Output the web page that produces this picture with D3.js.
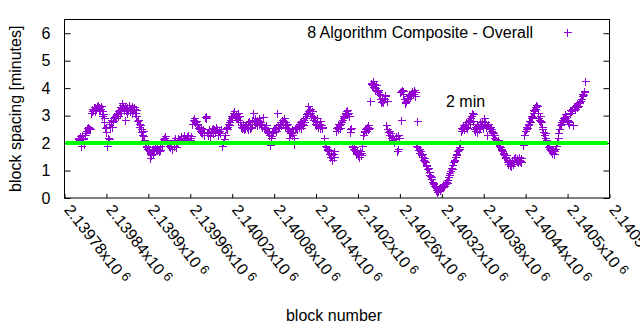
<!DOCTYPE html>
<html>
<head>
<meta charset="utf-8">
<script src="https://cdn.jsdelivr.net/npm/d3@7"></script>
<style>
  html, body { margin: 0; padding: 0; background: #fff; }
  svg { display: block; }
  text { font-family: "Liberation Sans", Arial, sans-serif; fill: #000; }
</style>
</head>
<body>
<svg id="chart" width="640" height="330"></svg>
<script>
// ---- data ----
const blockBase = 2139780;          // first x tick (block number)
const xTicks = [2139780, 2139840, 2139900, 2139960, 2140020, 2140080, 2140140,
                2140200, 2140260, 2140320, 2140380, 2140440, 2140500, 2140560];
const xTickLabels = ["2.13978", "2.13984", "2.1399", "2.13996", "2.14002", "2.14008", "2.14014",
                     "2.1402", "2.14026", "2.14032", "2.14038", "2.14044", "2.1405", "2.14056"];
const yTicks = [0, 1, 2, 3, 4, 5, 6];
const seriesName = "8 Algorithm Composite - Overall";
const targetMinutes = 2;
const targetLabel = "2 min";
const targetLabelAt = [2140326, 3.3];
// [block - blockBase, block spacing in minutes]
const samples = [
[19,2.15],[20,2.2],[21,2.1],[22,2.25],[23,1.9],[24,2.2],[25,2.3],[26,2.15],[27,2.2],[28,1.95],[29,2.3],[30,2.35],
[31,2.45],[32,2.55],[33,2.5],[34,2.6],[35,2.55],[36,2.5],[38,3.1],[39,3.15],[40,3.25],[41,3.2],[42,3.3],[43,3.15],
[44,3.3],[45,3.25],[46,3.35],[47,3.3],[48,3.4],[49,3.2],[50,3.3],[51,3.25],[52,3.35],[53,3.15],[54,3.0],[55,3.05],
[56,2.9],[57,2.75],[58,2.55],[59,2.4],[60,2.6],[61,1.9],[62,2.2],[63,2.15],[64,2.7],[65,2.6],[66,2.75],[67,2.85],
[68,2.6],[69,2.9],[70,2.8],[71,2.95],[72,3.0],[73,2.9],[74,3.05],[75,3.1],[76,3.0],[77,3.15],[78,3.2],[79,3.1],
[80,3.3],[81,3.15],[82,3.4],[83,3.45],[84,3.35],[85,3.2],[86,3.3],[87,2.85],[88,3.2],[89,3.1],[90,3.3],[91,3.2],
[92,3.4],[93,3.3],[94,3.15],[95,3.25],[96,3.35],[97,3.1],[98,3.2],[99,3.3],[100,3.25],[101,3.1],[102,3.2],[103,3.0],
[104,2.8],[105,2.85],[106,2.7],[107,2.6],[108,2.65],[109,2.5],[110,2.4],[111,2.3],[112,2.45],[113,2.25],[114,2.1],[115,1.95],
[116,1.85],[117,1.9],[118,1.8],[119,1.75],[120,1.85],[121,1.7],[122,1.6],[123,1.45],[124,1.55],[125,1.7],[126,1.75],[127,1.6],
[128,1.8],[129,1.85],[130,1.9],[131,1.8],[132,1.75],[133,1.85],[134,1.8],[135,1.7],[136,1.75],[137,1.9],[139,1.95],[141,2.15],
[142,2.2],[143,2.1],[144,2.25],[145,2.1],[147,2.0],[148,1.95],[150,1.9],[151,1.85],[153,1.95],[154,1.8],[156,1.9],[157,2.1],
[158,2.2],[160,1.85],[161,2.05],[163,2.2],[164,2.1],[166,2.15],[167,2.25],[169,2.1],[170,2.2],[171,2.3],[173,2.15],[174,2.2],
[176,2.25],[177,2.3],[179,2.2],[180,2.1],[181,2.25],[183,2.7],[184,2.85],[185,2.8],[186,2.9],[187,2.75],[188,2.8],[189,2.65],
[190,2.7],[191,2.55],[192,2.6],[193,2.5],[194,2.45],[195,2.55],[196,2.4],[197,2.35],[198,2.5],[199,2.4],[200,2.3],[201,2.95],
[202,3.0],[203,2.9],[204,2.4],[205,2.3],[206,2.35],[207,2.5],[208,2.25],[209,2.4],[210,2.45],[211,2.5],[212,2.35],[213,2.55],
[214,2.5],[215,2.4],[216,2.45],[217,2.6],[218,2.5],[219,2.4],[220,2.3],[221,2.45],[222,2.35],[224,2.5],[226,1.9],[227,2.05],
[228,2.15],[229,2.3],[231,2.55],[232,2.6],[233,2.5],[234,2.7],[235,2.65],[236,2.75],[237,2.85],[238,2.9],[239,3.0],[240,2.95],
[241,3.1],[242,3.05],[243,3.15],[244,3.0],[245,2.9],[246,3.05],[247,2.95],[248,3.1],[249,2.85],[250,3.0],[251,2.75],[252,2.6],
[253,2.65],[254,2.55],[255,2.7],[256,2.6],[257,2.5],[258,2.55],[259,2.65],[260,2.7],[261,2.6],[262,2.5],[263,2.75],[264,2.8],
[265,2.55],[266,2.7],[267,2.6],[268,2.85],[269,2.75],[270,3.1],[271,2.8],[272,2.7],[273,2.9],[274,2.75],[275,2.85],[276,2.65],
[277,2.8],[278,2.7],[279,2.9],[280,2.75],[281,2.65],[282,2.6],[283,2.7],[284,2.95],[285,2.55],[286,2.6],[287,2.5],[288,2.65],
[289,2.55],[290,2.45],[291,2.4],[292,2.3],[293,2.35],[294,1.93],[295,2.2],[296,2.25],[297,2.35],[298,2.45],[299,2.4],[300,2.55],
[301,2.5],[302,2.6],[303,2.45],[304,3.1],[305,2.55],[306,2.65],[307,2.6],[308,2.7],[309,2.75],[310,2.65],[311,2.85],[312,2.8],
[313,2.7],[314,2.9],[315,2.75],[316,2.6],[317,2.65],[318,2.55],[319,2.7],[320,2.5],[321,2.2],[322,2.45],[323,2.35],[324,2.4],
[325,2.3],[326,2.5],[327,2.4],[328,2.2],[329,1.95],[330,2.5],[331,2.55],[332,2.6],[333,2.5],[334,2.65],[335,2.7],[336,2.6],
[337,2.75],[338,2.55],[339,2.8],[340,2.7],[341,2.65],[342,2.85],[343,2.75],[344,2.9],[345,3.0],[346,3.05],[347,3.1],[348,3.35],
[349,3.15],[350,3.2],[351,3.1],[352,3.25],[353,3.0],[354,3.15],[355,2.95],[356,2.85],[357,2.9],[358,2.7],[359,2.8],[360,2.65],
[361,2.75],[362,2.9],[363,2.6],[364,2.7],[365,2.55],[366,2.8],[367,2.65],[368,2.6],[369,2.55],[371,2.2],[373,1.9],[374,1.85],
[375,1.75],[376,1.8],[377,1.7],[378,1.6],[379,1.75],[380,1.5],[381,1.65],[382,1.55],[383,1.4],[384,1.6],[385,1.5],[386,1.7],
[388,2.55],[389,2.45],[390,2.6],[391,2.5],[392,2.7],[393,2.65],[394,2.55],[395,2.7],[396,2.75],[397,2.85],[398,2.9],[399,3.0],
[400,2.95],[401,3.05],[402,3.1],[403,3.15],[404,3.05],[405,3.2],[406,3.1],[407,3.0],[408,2.5],[409,2.4],[410,2.55],[411,1.85],
[412,1.9],[413,1.8],[414,1.75],[415,1.85],[416,1.7],[417,1.6],[418,1.75],[419,1.65],[420,1.55],[421,1.5],[422,1.6],[423,1.7],
[424,1.55],[425,1.65],[426,1.9],[427,2.3],[428,2.45],[429,2.4],[430,2.5],[431,2.55],[432,2.45],[433,2.6],[434,2.5],[435,2.65],
[436,2.55],[437,3.55],[438,4.15],[439,4.2],[440,4.1],[441,4.25],[442,4.05],[443,4.15],[444,4.0],[445,3.95],[446,4.1],[447,3.9],
[448,3.85],[449,3.95],[450,3.8],[451,3.75],[452,3.6],[453,3.5],[454,3.55],[455,3.65],[456,3.5],[457,3.6],[458,3.7],[459,3.75],
[460,2.65],[461,3.55],[462,2.5],[463,2.4],[464,2.45],[465,2.3],[466,2.35],[467,2.2],[468,2.25],[469,2.1],[470,2.2],[471,2.05],
[472,2.15],[475,2.25],[476,1.7],[477,2.3],[478,1.8],[479,2.2],[480,3.85],[481,3.9],[482,2.85],[483,3.95],[484,3.8],[485,3.9],
[486,3.6],[487,3.5],[488,3.45],[489,3.55],[490,3.6],[491,3.7],[492,3.65],[493,3.75],[494,3.7],[495,3.8],[496,3.75],[497,3.85],
[498,3.9],[499,3.8],[500,3.95],[501,3.85],[502,3.7],[503,1.9],[504,2.8],[505,1.85],[506,1.75],[507,1.8],[508,1.65],[509,1.7],
[510,1.55],[511,1.6],[512,1.5],[513,1.4],[514,1.45],[515,1.35],[516,1.3],[517,1.2],[518,1.15],[519,1.05],[520,1.1],[521,0.95],
[522,0.85],[523,0.8],[524,0.7],[525,0.75],[526,0.6],[527,0.55],[528,0.5],[529,0.45],[530,0.4],[531,0.35],[532,0.3],[533,0.22],
[534,0.3],[535,0.25],[536,0.35],[537,0.3],[538,0.4],[539,0.35],[540,0.45],[541,0.4],[542,0.5],[543,0.45],[544,0.55],[545,0.5],
[546,0.6],[547,0.55],[548,0.65],[549,0.75],[550,0.9],[551,0.85],[552,1.0],[553,1.1],[554,1.05],[555,1.2],[556,1.3],[557,1.4],
[558,1.35],[559,1.5],[560,1.55],[561,1.6],[562,1.7],[563,1.75],[564,1.8],[565,1.85],[566,2.0],[567,2.45],[568,2.55],[569,2.5],
[570,2.6],[571,2.65],[572,2.5],[573,2.7],[574,2.6],[575,2.75],[576,2.55],[577,2.8],[578,2.7],[579,2.85],[580,2.75],[581,2.9],
[582,3.0],[583,3.1],[584,3.05],[585,2.8],[586,2.5],[587,2.45],[588,2.6],[589,2.55],[590,2.4],[591,2.7],[592,2.65],[593,2.5],
[594,2.6],[595,2.75],[596,2.7],[597,2.8],[598,2.65],[599,2.55],[600,2.9],[601,2.7],[602,2.75],[603,2.6],[604,2.65],[605,2.3],
[606,2.7],[607,2.5],[608,2.55],[609,2.6],[610,2.45],[611,2.5],[612,2.4],[613,2.35],[614,2.3],[615,2.2],[616,2.15],[617,2.1],
[618,2.05],[619,2.0],[620,1.95],[621,2.1],[622,1.9],[623,1.85],[624,1.8],[625,1.75],[626,1.7],[627,1.65],[628,1.6],[629,1.55],
[630,1.5],[631,1.45],[632,1.55],[633,1.4],[634,1.3],[635,1.25],[636,1.35],[637,1.2],[638,1.3],[639,1.15],[640,1.4],[641,1.35],
[642,1.25],[643,1.45],[644,1.3],[645,1.5],[646,1.4],[647,1.35],[648,1.45],[649,1.3],[650,1.4],[651,1.5],[652,1.35],[653,1.45],
[654,1.3],[656,1.93],[658,2.3],[659,2.45],[660,2.5],[661,2.6],[662,2.55],[663,2.65],[664,2.7],[665,2.8],[666,2.75],[667,2.9],
[668,3.0],[669,2.95],[670,3.1],[671,3.2],[672,3.15],[673,3.3],[674,3.25],[675,3.4],[676,3.35],[677,3.1],[678,2.9],[679,2.85],
[680,3.0],[681,2.8],[682,2.75],[683,2.6],[684,2.5],[685,2.4],[686,2.3],[687,2.35],[688,2.2],[689,2.1],[690,2.0],[691,1.95],
[692,1.85],[693,1.8],[694,1.9],[695,1.75],[696,1.7],[697,1.8],[698,1.65],[699,1.75],[700,1.6],[701,1.7],[702,1.8],[703,1.9],
[704,1.95],[705,2.05],[706,2.2],[707,2.35],[708,2.5],[709,2.65],[710,2.75],[711,2.7],[712,2.85],[713,2.9],[714,2.8],[715,2.95],
[716,3.05],[717,2.9],[718,3.0],[719,2.85],[720,2.75],[721,2.8],[722,2.7],[723,3.1],[724,3.2],[725,3.15],[726,3.25],[727,3.2],
[728,2.65],[729,3.3],[730,3.35],[731,3.25],[732,3.4],[733,3.3],[734,3.45],[735,3.35],[736,3.5],[737,3.45],[738,3.55],[739,3.6],
[740,3.7],[741,3.8],[742,3.75],[743,3.9],[744,3.85],[745,4.25]
];

// ---- layout ----
const margin = { left: 64.5, right: 609.5, top: 19.5, bottom: 198 };
const purple = "#9400d3";
const svg = d3.select("#chart");

const x = d3.scaleLinear().domain([xTicks[0], xTicks[xTicks.length - 1]]).range([margin.left, margin.right]);
const y = d3.scaleLinear().domain([0, 6.5]).range([margin.bottom, margin.top]);

// y axis (left, inward ticks)
const yAxis = svg.append("g").attr("transform", `translate(${margin.left},0)`)
  .call(d3.axisLeft(y).tickValues(yTicks).tickSize(-6).tickPadding(14).tickFormat(d3.format("d")));
yAxis.select(".domain").remove();
yAxis.selectAll("line").attr("stroke", "#000");
yAxis.selectAll("text").attr("font-size", 16).attr("font-family", "Liberation Sans, Arial, sans-serif").attr("fill", "#000");

// right mirror ticks
const yAxisR = svg.append("g").attr("transform", `translate(${margin.right},0)`)
  .call(d3.axisRight(y).tickValues(yTicks).tickSize(-6).tickFormat(""));
yAxisR.select(".domain").remove();
yAxisR.selectAll("line").attr("stroke", "#000");

// x axis (bottom, inward ticks)
const xAxis = svg.append("g").attr("transform", `translate(0,${margin.bottom})`)
  .call(d3.axisBottom(x).tickValues(xTicks).tickSize(-4).tickFormat(""));
xAxis.select(".domain").remove();
xAxis.selectAll("line").attr("stroke", "#000");

// rotated x tick labels
const xl = svg.append("g");
xTicks.forEach((t, i) => {
  const tx = x(t) - 1, ty = margin.bottom + 12;
  const txt = xl.append("text")
    .attr("transform", `translate(${tx},${ty}) rotate(52)`)
    .attr("font-size", 16)
    .attr("text-anchor", "start");
  txt.append("tspan").text(xTickLabels[i] + "x10");
  txt.append("tspan").attr("dx", 4).attr("dy", -4).attr("font-size", 13).text("6");
});

// data points as + crosses (snapped to pixel centres for crisp 1px strokes)
const r = 4;
const snap = v => Math.round(v) + 0.5;
const pts = svg.append("g").attr("stroke", purple).attr("stroke-width", 1).attr("fill", "none")
  .attr("shape-rendering", "crispEdges");
pts.selectAll("path").data(samples).enter().append("path")
  .attr("d", d => {
    const px = snap(x(blockBase + d[0])), py = snap(y(d[1]));
    return `M${px - r},${py}H${px + r}M${px},${py - r}V${py + r}`;
  });

// 2 min reference line
svg.append("line")
  .attr("x1", x(xTicks[0]) + 1).attr("x2", x(xTicks[xTicks.length - 1]) - 2)
  .attr("y1", y(targetMinutes)).attr("y2", y(targetMinutes))
  .attr("stroke", "#00ff00").attr("stroke-width", 4);

// label
svg.append("text").attr("x", x(targetLabelAt[0])).attr("y", y(targetLabelAt[1]))
  .attr("font-size", 16).text(targetLabel);

// legend
svg.append("text").attr("x", 533).attr("y", 37.5).attr("text-anchor", "end")
  .attr("font-size", 16).text(seriesName);
svg.append("path").attr("stroke", purple).attr("fill", "none").attr("shape-rendering", "crispEdges")
  .attr("d", `M${567.5 - r},32.5H${567.5 + r}M567.5,${32.5 - r}V${32.5 + r}`);

// border
svg.append("rect").attr("x", margin.left).attr("y", margin.top)
  .attr("width", margin.right - margin.left).attr("height", margin.bottom - margin.top)
  .attr("fill", "none").attr("stroke", "#000").attr("stroke-width", 1);

// axis titles
svg.append("text").attr("transform", `translate(21,${(margin.top + margin.bottom) / 2}) rotate(-90)`)
  .attr("text-anchor", "middle").attr("font-size", 16).text("block spacing [minutes]");
svg.append("text").attr("x", (margin.left + margin.right) / 2 - 3).attr("y", 321)
  .attr("text-anchor", "middle").attr("font-size", 16).text("block number");
</script>
</body>
</html>
